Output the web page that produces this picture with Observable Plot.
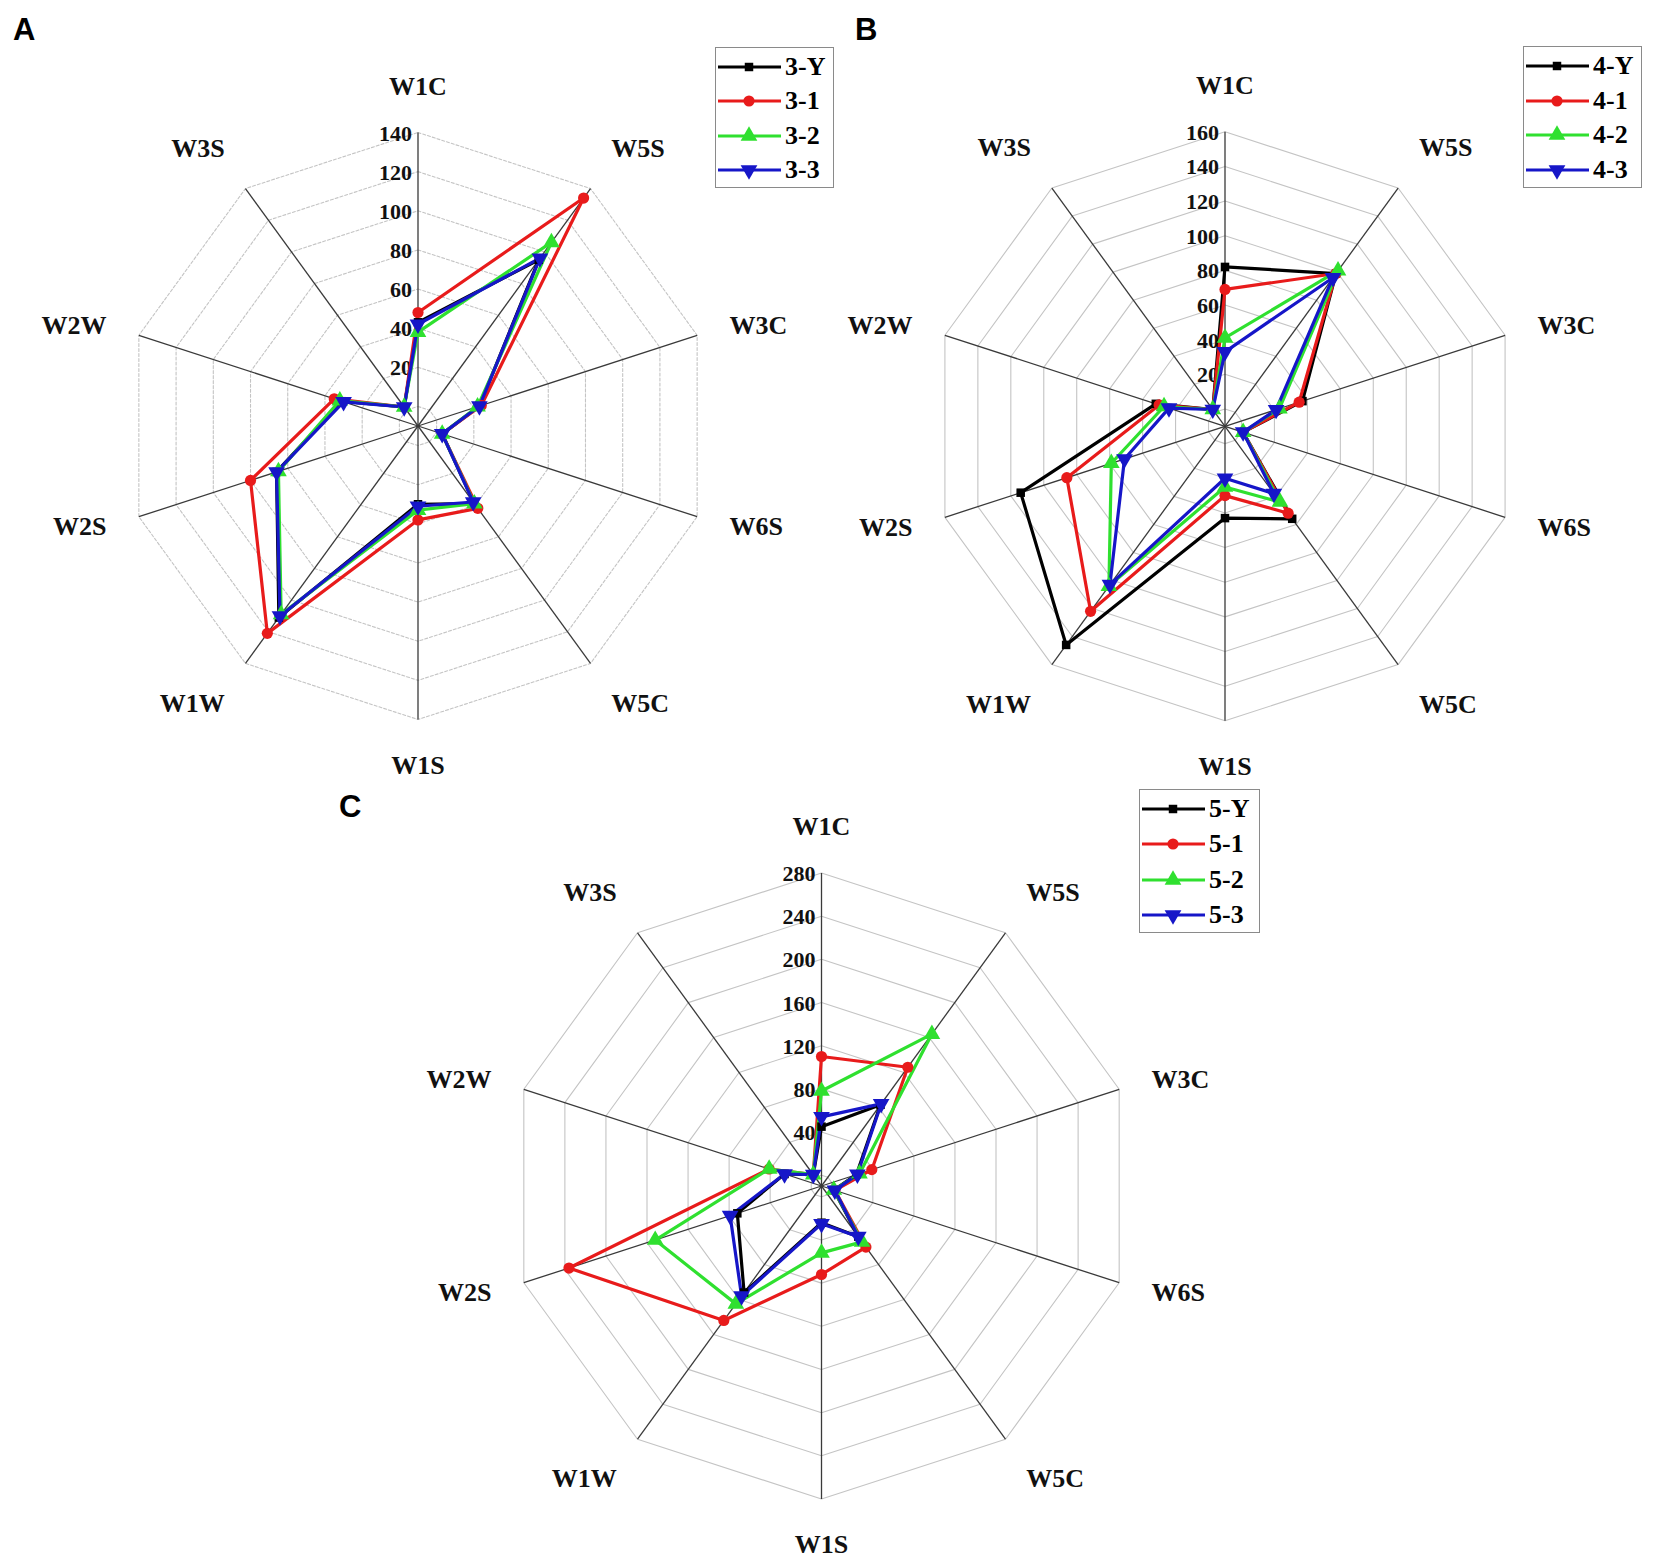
<!DOCTYPE html>
<html>
<head>
<meta charset="utf-8">
<script src="https://cdn.jsdelivr.net/npm/d3@7"></script>
<script src="https://cdn.jsdelivr.net/npm/@observablehq/plot@0.6"></script>
<style>
  html, body { margin: 0; padding: 0; background: #ffffff; }
  #page { position: relative; width: 1654px; height: 1567px; overflow: hidden; background: #ffffff; }
  .panel { position: absolute; }
  .panel svg { max-width: none !important; display: block; }
  .letter { position: absolute; font-family: "Liberation Sans", Arial, sans-serif; font-weight: bold; font-size: 31px; line-height: 1; color: #000; }
  .legend { position: absolute; border: 1.5px solid #8a8a8a; background: #fff; box-sizing: border-box; }
  .legend .row { position: absolute; left: 0; height: 28px; width: 100%; }
  .legend .row svg { position: absolute; left: 1px; top: 1px; }
  .legend .row span { position: absolute; left: 69px; top: 0; font-family: "Liberation Serif", "Times New Roman", serif; font-weight: bold; font-size: 26px; line-height: 28px; color: #000; }
</style>
</head>
<body>
<div id="page"></div>
<script>
// ---------- data ----------
const axisLabels = ["W1C", "W5S", "W3C", "W6S", "W5C", "W1S", "W1W", "W2S", "W2W", "W3S"];

const seriesColors = ["#000000", "#e81b1b", "#2fe02f", "#1616c8"];

// Panel A
const namesA = ["3-Y", "3-1", "3-2", "3-3"];
const a_Y = [43, 95, 23, 3, 39, 30, 111, 66, 31, 2];
const a_1 = [48, 134, 24, 3, 42, 38, 121, 80, 35, 2];
const a_2 = [38, 106, 22, 3, 39, 33, 109, 65, 32, 2];
const a_3 = [42, 96, 23, 3, 38, 31, 110, 66, 30, 2];
const ticksA = [0, 20, 40, 60, 80, 100, 120, 140];

// Panel B
const namesB = ["4-Y", "4-1", "4-2", "4-3"];
const b_Y = [82, 99, 37, 1, 56, 43, 146, 114, 32, 2];
const b_1 = [69, 99, 35, 1, 52, 30, 122, 86, 30, 2];
const b_2 = [41, 101, 23, 1, 44, 25, 104, 59, 27, 2];
const b_3 = [33, 96, 21, 1, 38, 20, 103, 51, 24, 2];
const ticksB = [0, 20, 40, 60, 80, 100, 120, 140, 160];

// Panel C
const namesC = ["5-Y", "5-1", "5-2", "5-3"];
const c_Y = [45, 83, 24, 2, 48, 24, 112, 72, 26, 3];
const c_1 = [110, 126, 39, 3, 60, 72, 144, 236, 41, 3];
const c_2 = [78, 164, 27, 2, 54, 52, 125, 152, 41, 3];
const c_3 = [54, 84, 25, 3, 48, 25, 116, 79, 26, 3];
const ticksC = [0, 40, 80, 120, 160, 200, 240, 280];

const radialMin = -10;

// ---------- symbols ----------
const triangleDown = {
  draw(context, size) {
    const y = -Math.sqrt(size / (Math.sqrt(3) * 3));
    context.moveTo(0, -y * 2);
    context.lineTo(-Math.sqrt(3) * y, y);
    context.lineTo(Math.sqrt(3) * y, y);
    context.closePath();
  }
};
const seriesSymbols = ["square", "circle", "triangle", triangleDown];
const d3Symbols = [d3.symbolSquare, d3.symbolCircle, d3.symbolTriangle, triangleDown];

const page = document.getElementById("page");
const measure = document.createElement("canvas").getContext("2d");
measure.font = "bold 26px 'Liberation Serif'";

function radar({names, series, ticks, max, cx, cy, R, left, top, width, height, gridDash}) {
  const n = axisLabels.length;
  const rs = d3.scaleLinear().domain([radialMin, max]).range([0, 1]);
  const ang = i => i * 2 * Math.PI / n;

  const axesRows = axisLabels.map((label, i) => ({label, i, hw: measure.measureText(label).width / 2}));
  const ringRows = ticks.flatMap(t => axisLabels.map((label, i) => ({tick: t, i})));
  const pointRows = series.map((vals, s) => vals.map((v, i) => ({series: names[s], s, i, value: v})));

  const px = d => rs(d.value) * Math.sin(ang(d.i));
  const py = d => rs(d.value) * Math.cos(ang(d.i));

  // label placement: text box touches a point a small gap beyond the outer vertex
  const gap = 32, hh = 14;
  const labelX = d => {
    const s = Math.sin(ang(d.i));
    return (R * s + gap * s + (Math.abs(s) > 0.1 ? Math.sign(s) * (d.hw + 2) : 0)) / R;
  };
  const labelY = d => {
    const c = Math.cos(ang(d.i));
    return (R * c + gap * c + (Math.abs(c) > 0.5 ? Math.sign(c) * hh : 0)) / R;
  };

  const marks = [
    Plot.line(ringRows, {
      x: d => rs(d.tick) * Math.sin(ang(d.i)),
      y: d => rs(d.tick) * Math.cos(ang(d.i)),
      z: "tick", curve: "linear-closed",
      stroke: "#c4c4c4", strokeWidth: 1.1, strokeDasharray: gridDash
    }),
    Plot.link(axesRows, {
      x1: 0, y1: 0,
      x2: d => rs(max) * Math.sin(ang(d.i)),
      y2: d => rs(max) * Math.cos(ang(d.i)),
      stroke: "#3a3a3a", strokeWidth: 1.3
    }),
    Plot.text(ticks.filter(t => t > 0), {
      x: 0, y: t => rs(t), text: t => String(t),
      textAnchor: "end", dx: -6, dy: 1,
      fontFamily: "Liberation Serif", fontWeight: "bold", fontSize: 22, fill: "#111"
    }),
    Plot.text(axesRows, {
      x: labelX, y: labelY, text: "label",
      fontFamily: "Liberation Serif", fontWeight: "bold", fontSize: 26, fill: "#111"
    })
  ];
  pointRows.forEach((rows, s) => {
    marks.push(Plot.line(rows, {
      x: px, y: py, curve: "linear-closed",
      stroke: seriesColors[s], strokeWidth: 3.2, strokeLinejoin: "round"
    }));
  });
  pointRows.forEach((rows, s) => {
    marks.push(Plot.dot(rows, {
      x: px, y: py, symbol: seriesSymbols[s],
      fill: seriesColors[s], stroke: "none",
      r: s === 0 ? 4.8 : (s === 1 ? 5.6 : 6.2)
    }));
  });

  const chart = Plot.plot({
    width, height,
    marginTop: 0, marginRight: 0, marginBottom: 0, marginLeft: 0,
    style: {background: "transparent", overflow: "visible"},
    x: {domain: [-1, 1], range: [cx - R, cx + R], axis: null},
    y: {domain: [-1, 1], range: [cy + R, cy - R], axis: null},
    marks
  });
  const div = document.createElement("div");
  div.className = "panel";
  div.style.left = left + "px";
  div.style.top = top + "px";
  div.appendChild(chart);
  page.appendChild(div);
}

function legend({names, left, top, width, height}) {
  const box = document.createElement("div");
  box.className = "legend";
  box.style.left = left + "px";
  box.style.top = top + "px";
  box.style.width = width + "px";
  box.style.height = height + "px";
  const step = (height - 38) / 3;
  names.forEach((name, s) => {
    const row = document.createElement("div");
    row.className = "row";
    row.style.top = (19 + s * step - 14) + "px";
    const svg = d3.create("svg").attr("width", 68).attr("height", 26);
    svg.append("line").attr("x1", 1).attr("x2", 64).attr("y1", 13).attr("y2", 13)
      .attr("stroke", seriesColors[s]).attr("stroke-width", 3.2);
    const sizes = [72, 98, 121, 121];
    svg.append("path").attr("transform", "translate(32,13)")
      .attr("d", d3.symbol(d3Symbols[s], sizes[s])())
      .attr("fill", seriesColors[s]);
    row.appendChild(svg.node());
    const span = document.createElement("span");
    span.textContent = name;
    row.appendChild(span);
    box.appendChild(row);
  });
  page.appendChild(box);
}

function letter(t, left, top) {
  const d = document.createElement("div");
  d.className = "letter";
  d.textContent = t;
  d.style.left = left + "px";
  d.style.top = top + "px";
  page.appendChild(d);
}

radar({names: namesA, series: [a_Y, a_1, a_2, a_3], ticks: ticksA, max: 140,
       cx: 417.5, cy: 425.5, R: 293.5, left: 0, top: 0, width: 830, height: 790, gridDash: "3,2"});
radar({names: namesB, series: [b_Y, b_1, b_2, b_3], ticks: ticksB, max: 160,
       cx: 394.5, cy: 425.8, R: 294.5, left: 830, top: 0, width: 824, height: 790, gridDash: null});
radar({names: namesC, series: [c_Y, c_1, c_2, c_3], ticks: ticksC, max: 280,
       cx: 441, cy: 445.5, R: 313, left: 380, top: 740, width: 900, height: 827, gridDash: null});

legend({names: namesA, left: 715, top: 47, width: 119, height: 141});
legend({names: namesB, left: 1523, top: 46, width: 119, height: 142});
legend({names: namesC, left: 1139, top: 789, width: 121, height: 144});

letter("A", 13, 14);
letter("B", 855, 14);
letter("C", 339, 791);
</script>
</body>
</html>
